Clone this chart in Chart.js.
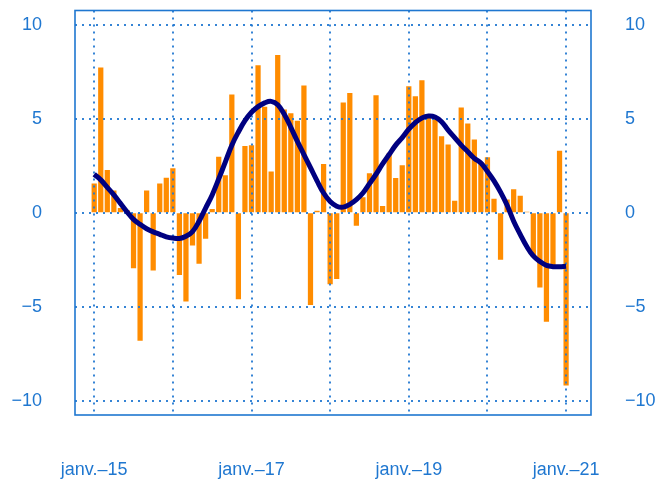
<!DOCTYPE html>
<html><head><meta charset="utf-8">
<script src="https://cdn.jsdelivr.net/npm/chart.js@4"></script>
<style>html,body{margin:0;padding:0;background:#fff}#wrap{width:657px;height:479px}</style>
</head><body><div id="wrap"><canvas id="c" width="657" height="479"></canvas></div>
<script>
// ---- data ----
const monthNames = ['janv.','févr.','mars','avr.','mai','juin','juil.','août','sept.','oct.','nov.','déc.'];
const years = ['15','16','17','18','19','20','21'];
const months = [];
years.forEach(y => monthNames.forEach(m => months.push(m + '–' + y)));
months.length = 73; // janv.-15 .. janv.-21

const barValues = [
  1.56, 7.73, 2.27, 1.19, 0.25, 0.15, -2.96, -6.82, 1.19, -3.08, 1.56, 1.87,
  2.37, -3.31, -4.73, -1.75, -2.71, -1.38, 0.2, 2.98, 2.0, 6.3, -4.6, 3.56,
  3.6, 7.85, 5.64, 2.2, 8.4, 5.5, 5.3, 4.9, 6.77, -4.91, 0.1, 2.59,
  -3.81, -3.53, 5.87, 6.38, -0.69, 0.82, 2.1, 6.26, 0.36, 3.16, 1.85, 2.53,
  6.74, 6.2, 7.06, 5.2, 5.0, 4.08, 3.63, 0.64, 5.6, 4.75, 3.9, 2.7,
  2.95, 0.74, -2.5, 0.7, 1.25, 0.9, 0.05, -2.34, -3.98, -5.8, -2.88, 3.3,
  -9.2
];
const trendValues = [
  2.05, 1.75, 1.35, 0.95, 0.5, 0.05, -0.35, -0.62, -0.85, -1.02, -1.15, -1.28,
  -1.35, -1.37, -1.25, -1.0, -0.45, 0.25, 0.95, 1.8, 2.7, 3.6, 4.3, 4.9,
  5.35, 5.65, 5.85, 5.93, 5.75, 5.25, 4.55, 3.8, 3.1, 2.4, 1.7, 1.05,
  0.6, 0.35, 0.3, 0.45, 0.7, 1.05, 1.55, 2.05, 2.6, 3.1, 3.6, 4.0,
  4.45, 4.8, 5.05, 5.15, 5.1, 4.85, 4.4, 4.0, 3.6, 3.25, 2.9, 2.65,
  2.2, 1.7, 1.1, 0.4, -0.45, -1.15, -1.8, -2.3, -2.6, -2.8, -2.87, -2.88,
  -2.85
];
const yTickValues = [-10, -5, 0, 5, 10];
const xTickIndex = [0, 12, 24, 36, 48, 60, 72];
const xTickLabels = ['janv.–15', '', 'janv.–17', '', 'janv.–19', '', 'janv.–21'];

// ---- style ----
const BLUE = '#1f77d0';
const GRID = 'rgba(31,119,208,0.9)';
const FONT = {family: '"Liberation Sans", Arial, sans-serif', size: 18};
const YFONT = {family: '"Liberation Sans", Arial, sans-serif', size: 18, lineHeight: 0.8};
const fmtY = v => v < 0 ? '\u2212' + Math.abs(v) : String(v);

const framePlugin = {
  id: 'frame',
  afterDatasetDraw(chart, args) {
    if (args.meta.type !== 'bar') return;
    const {ctx, chartArea: a, scales: {x, y}} = chart;
    ctx.save();
    ctx.strokeStyle = GRID;
    ctx.lineWidth = 2;
    ctx.setLineDash([2, 5]);
    yTickValues.forEach(v => {
      const py = Math.round(y.getPixelForValue(v));
      ctx.beginPath(); ctx.moveTo(a.left, py); ctx.lineTo(a.right, py); ctx.stroke();
    });
    xTickIndex.forEach(v => {
      const px = Math.round(x.getPixelForValue(v));
      ctx.beginPath(); ctx.moveTo(px, a.top); ctx.lineTo(px, a.bottom); ctx.stroke();
    });
    ctx.restore();
  },
  afterDraw(chart) {
    const {ctx, chartArea: a} = chart;
    ctx.save();
    ctx.strokeStyle = BLUE;
    ctx.lineWidth = 1.6;
    ctx.strokeRect(a.left, a.top, a.right - a.left, a.bottom - a.top);
    ctx.restore();
  }
};

const hiddenGrid = {display: true, color: 'rgba(0,0,0,0)', drawOnChartArea: false, drawTicks: true};

new Chart(document.getElementById('c'), {
  data: {
    datasets: [
      { type: 'line', data: trendValues.map((v, i) => ({x: i, y: v})), borderColor: '#000080', borderWidth: 5, pointRadius: 0, tension: 0.4, fill: false, order: 0 },
      { type: 'bar', data: barValues.map((v, i) => ({x: i, y: v})), backgroundColor: '#ff8c00', borderWidth: 0, barPercentage: 0.8, categoryPercentage: 1, order: 1 }
    ]
  },
  options: {
    responsive: false, animation: false, devicePixelRatio: 1,
    layout: {autoPadding: false, padding: {top: 10.5, left: 0, right: 0, bottom: 0}},
    plugins: {legend: {display: false}, tooltip: {enabled: false}},
    scales: {
      x: {
        type: 'linear', position: 'bottom', offset: false, min: -2.93, max: 75.8,
        grid: Object.assign({}, hiddenGrid, {tickLength: 44}), border: {display: false},
        afterBuildTicks: s => { s.ticks = xTickIndex.map(v => ({value: v})); },
        afterFit: s => { s.height = 64; },
        ticks: { autoSkip: false, maxRotation: 0, minRotation: 0, padding: 0, color: BLUE, font: FONT, callback: (v, i) => xTickLabels[i] }
      },
      y: {
        position: 'left', min: -10.77, max: 10.77,
        grid: Object.assign({}, hiddenGrid, {tickLength: 33}), border: {display: false},
        afterBuildTicks: s => { s.ticks = yTickValues.map(v => ({value: v})); },
        afterFit: s => { s.width = 75; },
        ticks: {padding: 0, color: BLUE, font: YFONT, callback: fmtY}
      },
      y2: {
        position: 'right', min: -10.77, max: 10.77,
        grid: Object.assign({}, hiddenGrid, {tickLength: 34}), border: {display: false},
        afterBuildTicks: s => { s.ticks = yTickValues.map(v => ({value: v})); },
        afterFit: s => { s.width = 66; },
        ticks: {padding: 0, color: BLUE, font: YFONT, callback: fmtY}
      }
    }
  },
  plugins: [framePlugin]
});
</script>
</body></html>
